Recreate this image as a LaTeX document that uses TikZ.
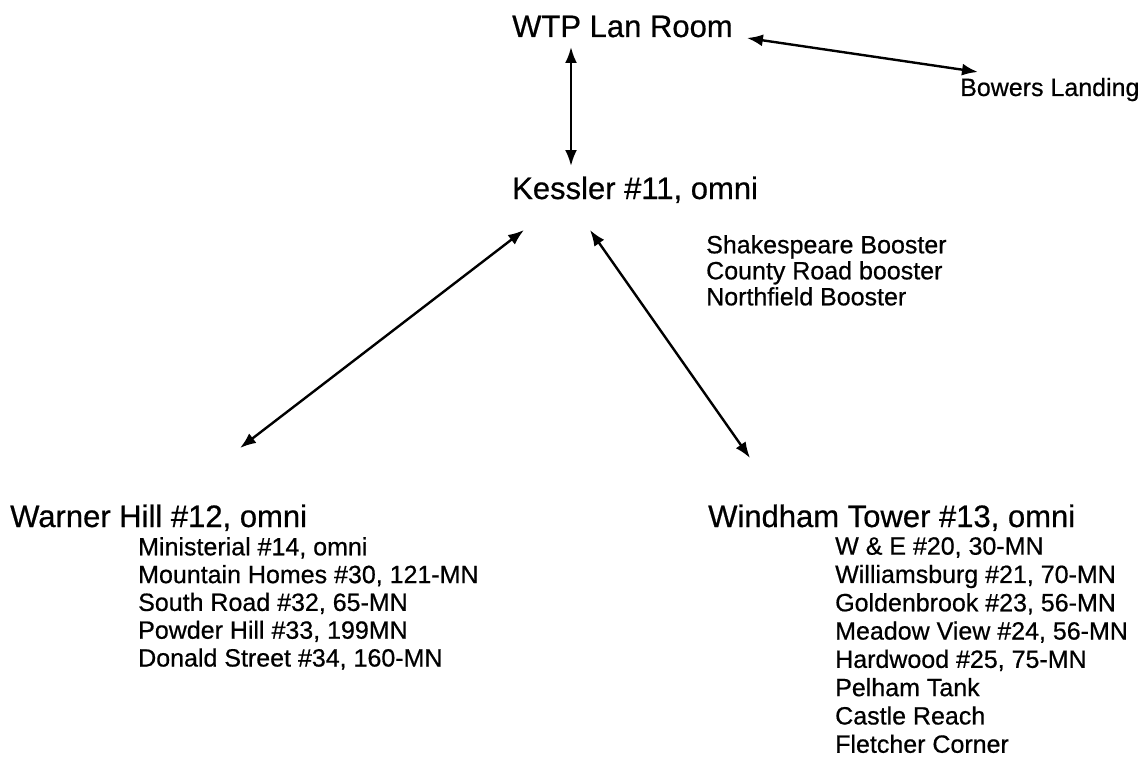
\documentclass[tikz,border=0pt]{standalone}
\usepackage{fontspec}
\setmainfont{Liberation Sans}[FakeBold=0.6]
\usetikzlibrary{arrows.meta,positioning}

\begin{document}
\begin{tikzpicture}[x=1pt, y=-1pt,
  site/.style={inner sep=0pt, anchor=base west, font=\fontsize{31}{34}\selectfont},
  sub/.style={inner sep=0pt, anchor=base west, font=\fontsize{25}{28}\selectfont},
  sublist/.style={inner sep=0pt, anchor=north west, align=left},
  link/.style={{Latex[length=16pt,width=12pt]}-{Latex[length=16pt,width=12pt]}, line width=2.4pt}
]
  \useasboundingbox (0,0) rectangle (1145,757);

  % Sites
  \node[site] (wtp) at (512,37) {WTP Lan Room};
  \node[sub] (bowers) at (960,96) {Bowers Landing};
  \node[site] (kessler) at (512,199) {Kessler \#11, omni};
  \node[site] (warner) at (10,527) {Warner Hill \#12, omni};
  \node[site] (windham) at (708,527) {Windham Tower \#13, omni};

  % Lists under the sites
  \node[sublist, font=\fontsize{25}{26}\selectfont] (kesslerlist) at (706,235)
    {Shakespeare Booster\\County Road booster\\Northfield Booster};
  \node[sublist, font=\fontsize{25}{27.8}\selectfont] (warnerlist) at (138,537)
    {Ministerial \#14, omni\\Mountain Homes \#30, 121-MN\\South Road \#32, 65-MN\\
     Powder Hill \#33, 199MN\\Donald Street \#34, 160-MN};
  \node[sublist, font=\fontsize{25}{28.3}\selectfont] (windhamlist) at (835,537)
    {W \& E \#20, 30-MN\\Williamsburg \#21, 70-MN\\Goldenbrook \#23, 56-MN\\
     Meadow View \#24, 56-MN\\Hardwood \#25, 75-MN\\Pelham Tank\\Castle Reach\\
     Fletcher Corner};

  % Links
  \draw[link] ([xshift=59pt,yshift=-10pt]wtp.base west)
    -- ([xshift=59pt,yshift=33pt]kessler.base west);
  \draw[link] ([xshift=14pt,yshift=-1pt]wtp.base east)
    -- ([xshift=18pt,yshift=24pt]bowers.base west);
  \draw[link] ([xshift=12pt,yshift=-31pt]kessler.base west)
    -- ([xshift=230pt,yshift=79pt]warner.base west);
  \draw[link] ([xshift=78pt,yshift=-31pt]kessler.base west)
    -- ([xshift=42pt,yshift=69pt]windham.base west);
\end{tikzpicture}
\end{document}
